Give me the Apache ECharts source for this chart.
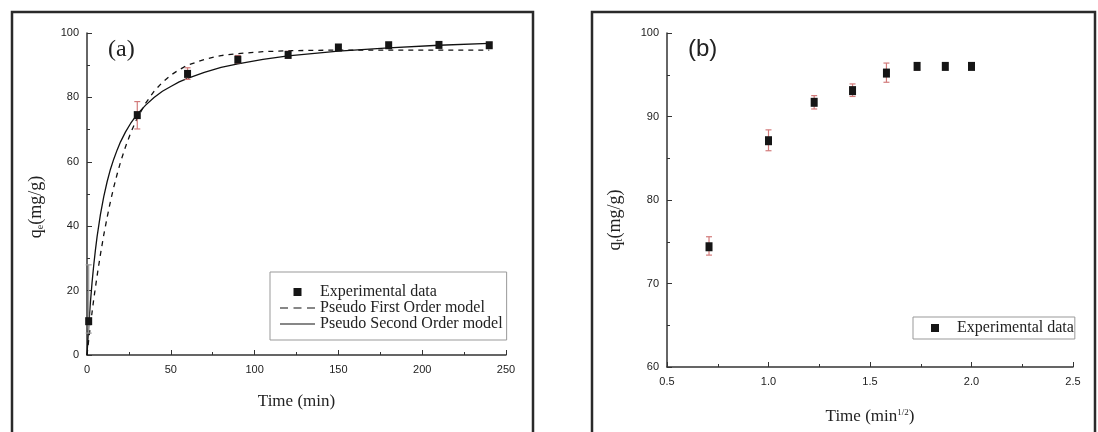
<!DOCTYPE html>
<html>
<head>
<meta charset="utf-8">
<script src="https://cdn.jsdelivr.net/npm/echarts@6/dist/echarts.min.js"></script>
<style>
  html, body { margin: 0; padding: 0; background: #fff; }
  #chart { width: 1098px; height: 432px; }
</style>
</head>
<body>
<div id="chart"></div>
<script>
// (a) adsorption vs time (min)
const timeA = [1, 30, 60, 90, 120, 150, 180, 210, 240];
const qeA = [10.5, 74.5, 87.3, 91.7, 93.2, 95.5, 96.2, 96.3, 96.2];
const errLowA = [6.8, 70.2, 85.6, 90.6, 92.2, 94.8, 95.6, 95.8, 95.6];
const errHighA = [28, 78.7, 89.2, 93.0, 94.3, 96.3, 96.9, 96.9, 96.9];

// model curves
const fitTime = [0, 1, 2, 3, 4, 5, 6, 8, 10, 12, 14, 16, 18, 20, 23, 26, 30, 35, 40, 45, 50, 55, 60, 70, 80, 90, 105, 120, 150, 180, 210, 240];
const pfoQ = [0, 4.6, 9.0, 13.2, 17.2, 20.9, 24.5, 31.2, 37.3, 42.7, 47.7, 52.2, 56.2, 59.9, 64.7, 68.9, 73.6, 78.2, 81.9, 84.7, 86.9, 88.6, 90.0, 91.8, 93.0, 93.6, 94.2, 94.5, 94.7, 94.7, 94.7, 94.7];
const psoQ = [0, 8.8, 16.1, 22.4, 27.8, 32.5, 36.7, 43.6, 49.2, 53.8, 57.7, 60.9, 63.7, 66.2, 69.3, 71.9, 74.8, 77.6, 80.0, 81.9, 83.4, 84.8, 85.9, 87.8, 89.3, 90.4, 91.8, 92.9, 94.4, 95.4, 96.2, 96.8];

// (b) adsorption vs time^(1/2)
const rootTime = [0.707, 1.0, 1.225, 1.414, 1.581, 1.732, 1.871, 2.0];
const qtB = [74.4, 87.1, 91.7, 93.1, 95.2, 96.0, 96.0, 96.0];
const errLowB = [73.4, 85.9, 90.9, 92.4, 94.1, 95.6, 95.7, 95.7];
const errHighB = [75.6, 88.4, 92.5, 93.9, 96.4, 96.4, 96.3, 96.3];

const serif = "'Liberation Serif', 'Times New Roman', serif";
const sans = "'Liberation Sans', Arial, sans-serif";

const chart = echarts.init(document.getElementById('chart'));

// vertical bars with caps
function errorBars(xs, lo, hi, idx) {
  return {
    type: 'custom',
    xAxisIndex: idx,
    yAxisIndex: idx,
    silent: true,
    z: 2,
    data: xs.map((x, i) => [x, lo[i], hi[i]]),
    encode: { x: 0, y: [1, 2] },
    renderItem(params, api) {
      const top = api.coord([api.value(0), api.value(2)]);
      const bot = api.coord([api.value(0), api.value(1)]);
      const color = idx === 0 && params.dataIndex === 0 ? '#9a9a9a' : '#d27b7b';
      const st = { stroke: color, lineWidth: 1.2 };
      const w = 3;
      return {
        type: 'group',
        children: [
          { type: 'line', shape: { x1: top[0], y1: top[1], x2: bot[0], y2: bot[1] }, style: st },
          { type: 'line', shape: { x1: top[0] - w, y1: top[1], x2: top[0] + w, y2: top[1] }, style: st },
          { type: 'line', shape: { x1: bot[0] - w, y1: bot[1], x2: bot[0] + w, y2: bot[1] }, style: st }
        ]
      };
    }
  };
}

const axisCommon = {
  type: 'value',
  axisLine: { show: true, onZero: false, lineStyle: { color: '#333', width: 1.5 } },
  axisTick: { show: true, inside: true, length: 5, lineStyle: { color: '#333' } },
  minorTick: { show: true, splitNumber: 2, length: 3, lineStyle: { color: '#333' } },
  splitLine: { show: false },
  axisLabel: { color: '#222', fontFamily: sans, fontSize: 11 }
};

// legend icons
const square = 'path://M0,0h1v1h-1z';
const solidIcon = 'path://M0,0h35v1.2h-35z';
const dashIcon = 'path://M0,0h8v1.2h-8zM13.5,0h8v1.2h-8zM27,0h8v1.2h-8z';
const legendText = { fontFamily: serif, fontSize: 16, color: '#222' };

const option = {
  backgroundColor: '#fff',
  animation: false,
  grid: [
    { left: 87, top: 33, width: 419, height: 322 },
    { left: 667, top: 33, width: 406, height: 334 }
  ],
  xAxis: [
    Object.assign({}, axisCommon, {
      gridIndex: 0, min: 0, max: 250, interval: 50,
      axisLabel: Object.assign({}, axisCommon.axisLabel, { margin: 9 }),
      name: 'Time (min)', nameLocation: 'middle', nameGap: 38,
      nameTextStyle: { fontFamily: serif, fontSize: 17, color: '#222' }
    }),
    Object.assign({}, axisCommon, {
      gridIndex: 1, min: 0.5, max: 2.5, interval: 0.5,
      axisLabel: Object.assign({}, axisCommon.axisLabel, { margin: 9, formatter: v => v.toFixed(1) }),
      name: 'Time (min{sup|1/2})', nameLocation: 'middle', nameGap: 41,
      nameTextStyle: {
        fontFamily: serif, fontSize: 17, color: '#222',
        rich: { sup: { fontFamily: serif, fontSize: 9, color: '#222', padding: [0, 0, 9, 0] } }
      }
    })
  ],
  yAxis: [
    Object.assign({}, axisCommon, {
      gridIndex: 0, min: 0, max: 100, interval: 20,
      axisLabel: Object.assign({}, axisCommon.axisLabel, { margin: 8 })
    }),
    Object.assign({}, axisCommon, {
      gridIndex: 1, min: 60, max: 100, interval: 10,
      axisLabel: Object.assign({}, axisCommon.axisLabel, { margin: 8 })
    })
  ],
  legend: [
    {
      left: 270, top: 272, orient: 'vertical',
      itemWidth: 35, itemHeight: 8, itemGap: 0,
      padding: [12, 4, 8, 10],
      borderColor: '#999', borderWidth: 1, backgroundColor: '#fff',
      textStyle: legendText,
      data: [
        { name: 'Experimental data', icon: square },
        { name: 'Pseudo First Order model', icon: dashIcon },
        { name: 'Pseudo Second Order model', icon: solidIcon }
      ]
    },
    {
      left: 913, top: 317, orient: 'vertical', align: 'left',
      itemWidth: 34, itemHeight: 8, padding: [3, 1, 3, 18],
      borderColor: '#999', borderWidth: 1, backgroundColor: '#fff',
      textStyle: legendText,
      data: [{ name: 'Experimental data', icon: square }]
    }
  ],
  graphic: [
    { type: 'rect', shape: { x: 12, y: 12, width: 521, height: 440 }, style: { fill: 'none', stroke: '#2a2a2a', lineWidth: 2.5 } },
    { type: 'rect', shape: { x: 592, y: 12, width: 503, height: 440 }, style: { fill: 'none', stroke: '#2a2a2a', lineWidth: 2.5 } },
    { type: 'text', left: 108, top: 38, style: { text: '(a)', font: '24px ' + serif, fill: '#222' } },
    { type: 'text', left: 688, top: 37, style: { text: '(b)', font: '24px ' + sans, fill: '#222' } },
    {
      type: 'text', x: 36, y: 207, rotation: Math.PI / 2,
      style: {
        text: '{a|q}{s|e}{a|(mg/g)}', align: 'center', verticalAlign: 'middle',
        rich: {
          a: { fontFamily: serif, fontSize: 18, fill: '#222' },
          s: { fontFamily: serif, fontSize: 10, fill: '#222', padding: [9, 0, 0, 0] }
        }
      }
    },
    {
      type: 'text', x: 615, y: 220, rotation: Math.PI / 2,
      style: {
        text: '{a|q}{s|t}{a|(mg/g)}', align: 'center', verticalAlign: 'middle',
        rich: {
          a: { fontFamily: serif, fontSize: 18, fill: '#222' },
          s: { fontFamily: serif, fontSize: 10, fill: '#222', padding: [9, 0, 0, 0] }
        }
      }
    }
  ],
  series: [
    {
      name: 'Pseudo First Order model', type: 'line', xAxisIndex: 0, yAxisIndex: 0,
      data: fitTime.map((t, i) => [t, pfoQ[i]]),
      showSymbol: false, symbol: 'none',
      lineStyle: { color: '#111', width: 1.3, type: [5, 5] }, itemStyle: { color: '#111' }, z: 1
    },
    {
      name: 'Pseudo Second Order model', type: 'line', xAxisIndex: 0, yAxisIndex: 0,
      data: fitTime.map((t, i) => [t, psoQ[i]]),
      showSymbol: false, symbol: 'none',
      lineStyle: { color: '#111', width: 1.3 }, itemStyle: { color: '#111' }, z: 1
    },
    errorBars(timeA, errLowA, errHighA, 0),
    {
      name: 'Experimental data', type: 'scatter', xAxisIndex: 0, yAxisIndex: 0,
      data: timeA.map((t, i) => [t, qeA[i]]),
      symbol: 'rect', symbolSize: [7, 8], itemStyle: { color: '#151515', opacity: 1 }, z: 3
    },
    errorBars(rootTime, errLowB, errHighB, 1),
    {
      name: 'Experimental data', type: 'scatter', xAxisIndex: 1, yAxisIndex: 1,
      data: rootTime.map((t, i) => [t, qtB[i]]),
      symbol: 'rect', symbolSize: [7, 9], itemStyle: { color: '#151515', opacity: 1 }, z: 3
    }
  ]
};

chart.setOption(option);
</script>
</body>
</html>
